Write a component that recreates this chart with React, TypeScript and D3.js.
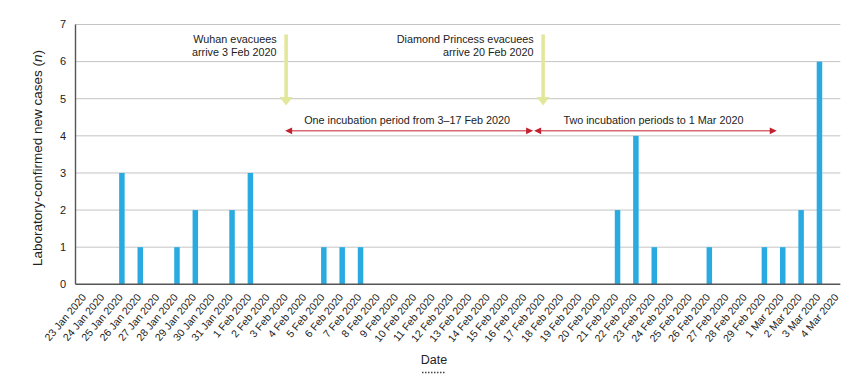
import React from 'react';
import * as d3 from 'd3';

const dates = [
  '23 Jan 2020', '24 Jan 2020', '25 Jan 2020', '26 Jan 2020', '27 Jan 2020', '28 Jan 2020',
  '29 Jan 2020', '30 Jan 2020', '31 Jan 2020', '1 Feb 2020', '2 Feb 2020', '3 Feb 2020',
  '4 Feb 2020', '5 Feb 2020', '6 Feb 2020', '7 Feb 2020', '8 Feb 2020', '9 Feb 2020',
  '10 Feb 2020', '11 Feb 2020', '12 Feb 2020', '13 Feb 2020', '14 Feb 2020', '15 Feb 2020',
  '16 Feb 2020', '17 Feb 2020', '18 Feb 2020', '19 Feb 2020', '20 Feb 2020', '21 Feb 2020',
  '22 Feb 2020', '23 Feb 2020', '24 Feb 2020', '25 Feb 2020', '26 Feb 2020', '27 Feb 2020',
  '28 Feb 2020', '29 Feb 2020', '1 Mar 2020', '2 Mar 2020', '3 Mar 2020', '4 Mar 2020',
];

const cases = [
  0, 0, 3, 1, 0, 1,
  2, 0, 2, 3, 0, 0,
  0, 1, 1, 1, 0, 0,
  0, 0, 0, 0, 0, 0,
  0, 0, 0, 0, 0, 2,
  4, 1, 0, 0, 1, 0,
  0, 1, 1, 2, 6, 0,
];

const yTicks = [0, 1, 2, 3, 4, 5, 6, 7];

const evacLabels = [
  { date: '3 Feb 2020', lines: ['Wuhan evacuees', 'arrive 3 Feb 2020'] },
  { date: '17 Feb 2020', lines: ['Diamond Princess evacuees', 'arrive 20 Feb 2020'] },
];

const periods = [
  { from: '3 Feb 2020', to: '17 Feb 2020', label: 'One incubation period from 3\u201317 Feb 2020' },
  { from: '17 Feb 2020', to: '1 Mar 2020', label: 'Two incubation periods to 1 Mar 2020' },
];

const W = 857;
const H = 379;
const FONT = '"Liberation Sans", Arial, Helvetica, sans-serif';
const BLUE = '#29abe2';
const RED = '#c4212f';
const GREEN = '#e2e89b';

export default function App() {
  const x = d3.scaleBand<string>().domain(dates).range([76, 847]);
  const y = d3.scaleLinear().domain([0, 7]).range([284.3, 24.5]);
  const cx = (d: string) => (x(d) as number) + x.bandwidth() / 2;
  const left = 75.5;
  const right = cx(dates[dates.length - 1]) + 2.5;
  const barW = 5.5;
  const arrowY = y(4) - 5;

  const periodPos = [
    { x1: cx(periods[0].from) - 2, x2: cx(periods[0].to) - 11 },
    { x1: cx(periods[1].from) - 10, x2: cx(periods[1].to) - 6 },
  ];

  return (
    <svg width={W} height={H} style={{ position: 'absolute', left: 0, top: 0, background: '#fff' }}
      fontFamily={FONT}>
      {/* gridlines */}
      {yTicks.filter(t => t > 0).map(t => (
        <line key={'g' + t} x1={left} x2={right} y1={y(t)} y2={y(t)} stroke="#c4c4c4" strokeWidth={1} />
      ))}
      {/* bars */}
      {dates.map((d, i) => cases[i] > 0 && (
        <rect key={'b' + d} x={cx(d) - barW / 2} y={y(cases[i])} width={barW}
          height={y(0) - y(cases[i])} fill={BLUE} />
      ))}
      {/* axes */}
      <line x1={left} x2={left} y1={y(7)} y2={y(0)} stroke="#555" strokeWidth={1.4} />
      <line x1={left} x2={right} y1={y(0)} y2={y(0)} stroke="#555" strokeWidth={1.4} />
      {yTicks.map(t => (
        <text key={'yt' + t} x={66} y={y(t)} dy="0.35em" textAnchor="end" fontSize={11} fill="#222">{t}</text>
      ))}
      {dates.map(d => (
        <text key={'xt' + d} transform={`translate(${cx(d) + 1.5},297.5) rotate(-50)`}
          textAnchor="end" fontSize={10.5} fill="#222">{d}</text>
      ))}
      {/* axis titles */}
      <text transform={`translate(41.5,158) rotate(-90)`} textAnchor="middle" fontSize={13.5} fill="#222">
        Laboratory-confirmed new cases (<tspan fontStyle="italic">n</tspan>)
      </text>
      <text x={434} y={364} textAnchor="middle" fontSize={12.5} fill="#222">Date</text>
      <line x1={422} x2={446} y1={372.5} y2={372.5} stroke="#444" strokeWidth={1.5} strokeDasharray="1.5,1.5" />
      {/* evacuee arrows */}
      {evacLabels.map(e => {
        const ax = cx(e.date) - 1;
        return (
          <g key={'e' + e.date}>
            <rect x={ax - 1.8} y={34.5} width={3.6} height={63} fill={GREEN} />
            <path d={`M${ax - 6.5},97 L${ax + 6.5},97 L${ax},105.5 Z`} fill={GREEN} />
            {e.lines.map((l, i) => (
              <text key={l} x={ax - 9.5} y={43 + i * 12.5} textAnchor="end" fontSize={10.8} fill="#222">{l}</text>
            ))}
          </g>
        );
      })}
      {/* incubation period arrows */}
      {periods.map((p, i) => {
        const { x1, x2 } = periodPos[i];
        return (
          <g key={'p' + i}>
            <line x1={x1 + 5} x2={x2 - 5} y1={arrowY} y2={arrowY} stroke={RED} strokeWidth={1} />
            <path d={`M${x1},${arrowY} L${x1 + 7},${arrowY - 3.3} L${x1 + 7},${arrowY + 3.3} Z`} fill={RED} />
            <path d={`M${x2},${arrowY} L${x2 - 7},${arrowY - 3.3} L${x2 - 7},${arrowY + 3.3} Z`} fill={RED} />
            <text x={(x1 + x2) / 2 - 2} y={arrowY - 6.5} textAnchor="middle" fontSize={10.8} fill="#222">{p.label}</text>
          </g>
        );
      })}
    </svg>
  );
}
